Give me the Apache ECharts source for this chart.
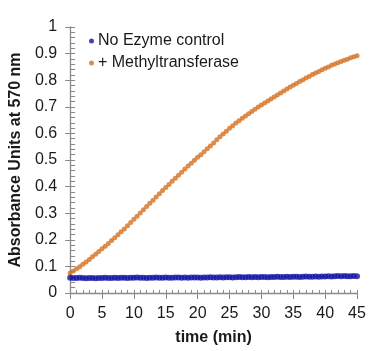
<!DOCTYPE html>
<html>
<head>
<meta charset="utf-8">
<script src="https://cdn.jsdelivr.net/npm/echarts@6/dist/echarts.min.js"></script>
<style>
  html, body { margin: 0; padding: 0; background: #fff; }
  #chart { width: 372px; height: 351px; }
</style>
</head>
<body>
<div id="chart"></div>
<script>
const minutes = [
  0, 0.5, 1, 1.5, 2, 2.5, 3, 3.5, 4, 4.5, 5, 5.5, 6, 6.5, 7, 7.5, 8, 8.5, 9, 9.5,
  10, 10.5, 11, 11.5, 12, 12.5, 13, 13.5, 14, 14.5, 15, 15.5, 16, 16.5, 17, 17.5, 18, 18.5, 19, 19.5,
  20, 20.5, 21, 21.5, 22, 22.5, 23, 23.5, 24, 24.5, 25, 25.5, 26, 26.5, 27, 27.5, 28, 28.5, 29, 29.5,
  30, 30.5, 31, 31.5, 32, 32.5, 33, 33.5, 34, 34.5, 35, 35.5, 36, 36.5, 37, 37.5, 38, 38.5, 39, 39.5,
  40, 40.5, 41, 41.5, 42, 42.5, 43, 43.5, 44, 44.5, 45
]

// No enzyme control, flat baseline
const controlValues = [
  0.057, 0.056, 0.056, 0.057, 0.056, 0.055, 0.056, 0.056, 0.055, 0.056, 0.056, 0.057, 0.056, 0.056, 0.057, 0.056, 0.057, 0.057, 0.056, 0.057,
  0.057, 0.058, 0.057, 0.057, 0.056, 0.057, 0.057, 0.058, 0.057, 0.057, 0.058, 0.057, 0.057, 0.058, 0.058, 0.057, 0.058, 0.057, 0.058, 0.058,
  0.058, 0.057, 0.058, 0.058, 0.059, 0.058, 0.058, 0.059, 0.058, 0.059, 0.059, 0.058, 0.059, 0.060, 0.059, 0.059, 0.060, 0.059, 0.060, 0.059,
  0.060, 0.060, 0.059, 0.060, 0.060, 0.061, 0.060, 0.060, 0.061, 0.060, 0.061, 0.061, 0.060, 0.061, 0.062, 0.061, 0.061, 0.062, 0.061, 0.062,
  0.062, 0.063, 0.062, 0.063, 0.064, 0.063, 0.064, 0.063, 0.063, 0.064, 0.063
]

// + Methyltransferase
const enzymeValues = [
  0.075, 0.083, 0.091, 0.099, 0.108, 0.117, 0.126, 0.136, 0.146, 0.156, 0.166, 0.176, 0.186, 0.197, 0.208, 0.219, 0.230, 0.241, 0.253, 0.265,
  0.277, 0.289, 0.301, 0.313, 0.325, 0.337, 0.349, 0.361, 0.373, 0.385, 0.397, 0.408, 0.420, 0.431, 0.443, 0.454, 0.466, 0.477, 0.488, 0.499,
  0.510, 0.520, 0.531, 0.542, 0.553, 0.564, 0.576, 0.587, 0.598, 0.608, 0.619, 0.629, 0.639, 0.648, 0.657, 0.665, 0.674, 0.682, 0.691, 0.699,
  0.707, 0.714, 0.722, 0.729, 0.737, 0.744, 0.752, 0.759, 0.767, 0.774, 0.781, 0.788, 0.795, 0.801, 0.808, 0.814, 0.821, 0.827, 0.833, 0.839,
  0.845, 0.850, 0.856, 0.861, 0.866, 0.870, 0.875, 0.879, 0.884, 0.888, 0.892
]

const seriesNames = ['No Ezyme control', '+ Methyltransferase']

const font = '"Liberation Sans", Arial, sans-serif'
const axisGray = '#8a8a8a'
const textColor = '#1a1a1a'

const pairs = (vals) => minutes.map((t, i) => [t, vals[i]])

const chart = echarts.init(document.getElementById('chart'), null, { renderer: 'canvas' })

const xBase = { type: 'value', min: 0, max: 45, interval: 5, gridIndex: 0 }
const yBase = { type: 'value', min: 0, max: 1, interval: 0.1, gridIndex: 0 }

chart.setOption({
  animation: false,
  backgroundColor: '#fff',
  textStyle: { fontFamily: font },
  grid: { left: 66, right: 15, top: 27, bottom: 57 },
  legend: {
    orient: 'vertical',
    left: 84,
    top: 28,
    itemGap: 6,
    itemWidth: 5,
    itemHeight: 5,
    icon: 'circle',
    textStyle: { fontSize: 16, color: textColor, fontFamily: font, padding: [0, 0, 0, -1] },
    data: seriesNames,
  },
  xAxis: [
    {
      ...xBase,
      name: 'time (min)',
      nameLocation: 'middle',
      nameGap: 37,
      nameTextStyle: { fontSize: 16, fontWeight: 'bold', color: textColor, fontFamily: font },
      axisLine: { lineStyle: { color: axisGray, width: 1.3 } },
      axisTick: { inside: true, length: 3, lineStyle: { color: axisGray } },
      minorTick: { show: true, splitNumber: 5, length: 3, lineStyle: { color: axisGray } },
      axisLabel: { fontSize: 16, color: textColor, margin: 13, fontFamily: font },
      splitLine: { show: false },
    },
    {
      ...xBase,
      position: 'bottom',
      axisLine: { show: false },
      axisTick: { inside: false, length: 6, lineStyle: { color: axisGray } },
      axisLabel: { show: false },
      splitLine: { show: false },
    },
  ],
  yAxis: [
    {
      ...yBase,
      name: 'Absorbance Units at 570 nm',
      nameLocation: 'middle',
      nameGap: 45,
      nameTextStyle: { fontSize: 16, fontWeight: 'bold', color: textColor, fontFamily: font },
      axisLine: { show: true, lineStyle: { color: axisGray, width: 1.3 } },
      axisTick: { show: true, inside: true, length: 5, lineStyle: { color: axisGray } },
      minorTick: { show: true, splitNumber: 5, length: 5, lineStyle: { color: axisGray } },
      axisLabel: {
        fontSize: 16,
        color: textColor,
        margin: 13,
        fontFamily: font,
        formatter: (v) => String(Math.round(v * 10) / 10),
      },
      splitLine: { show: false },
    },
    {
      ...yBase,
      position: 'left',
      axisLine: { show: false },
      axisTick: { show: true, inside: false, length: 5, lineStyle: { color: axisGray } },
      axisLabel: { show: false },
      splitLine: { show: false },
    },
  ],
  series: [
    {
      name: seriesNames[0],
      type: 'scatter',
      data: pairs(controlValues),
      symbolSize: 6,
      itemStyle: { color: '#1414a6' },
      z: 3,
    },
    {
      name: seriesNames[1],
      type: 'scatter',
      data: pairs(enzymeValues),
      symbolSize: 5,
      itemStyle: { color: '#d6701f' },
      z: 2,
    },
  ],
})
</script>
</body>
</html>
